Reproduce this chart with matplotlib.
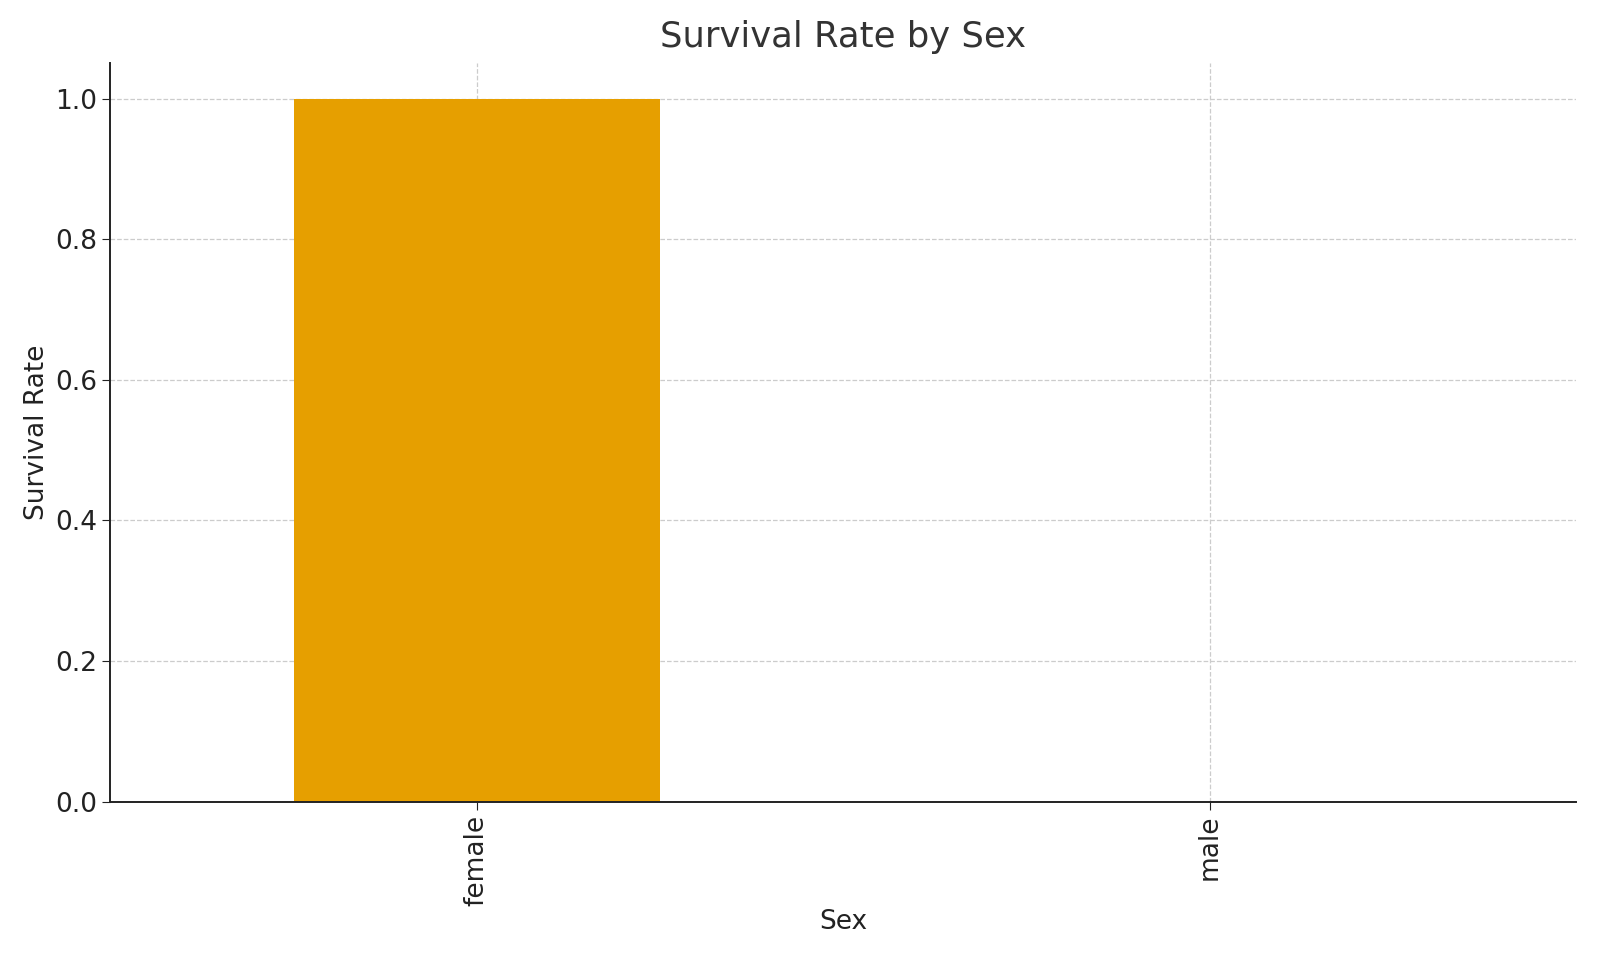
import numpy as np
import matplotlib.pyplot as plt

# data
sexes = ["female", "male"]
survival_rate = [1.0, 0.0]

fig, ax = plt.subplots(figsize=(16, 9.6), dpi=100)
fig.subplots_adjust(left=0.069, right=0.985, top=0.934, bottom=0.165)

x = np.arange(len(sexes))
ax.bar(x, survival_rate, width=0.5, color="#E69F00", zorder=2)

ax.set_xticks(x)
ax.set_xticklabels(sexes, rotation=90, fontsize=19, color="#222222")
ax.set_xlim(-0.5, 1.5)
ax.set_ylim(0, 1.05)
ax.set_yticks([0.0, 0.2, 0.4, 0.6, 0.8, 1.0])
ax.tick_params(axis="y", labelsize=19, labelcolor="#222222")
ax.tick_params(axis="both", length=6, color="#222222")

ax.set_title("Survival Rate by Sex", fontsize=25.5, color="#333333", pad=12)
ax.set_xlabel("Sex", fontsize=19, labelpad=2, color="#222222")
ax.set_ylabel("Survival Rate", fontsize=19, color="#222222")

ax.grid(True, linestyle="--", color="#cccccc", linewidth=0.9, zorder=0)
ax.set_axisbelow(True)
for s in ["top", "right"]:
    ax.spines[s].set_visible(False)
ax.spines["left"].set_linewidth(1.4)
ax.spines["bottom"].set_linewidth(1.4)
ax.spines["left"].set_color("#222222")
ax.spines["bottom"].set_color("#222222")

fig.savefig("out.png")
